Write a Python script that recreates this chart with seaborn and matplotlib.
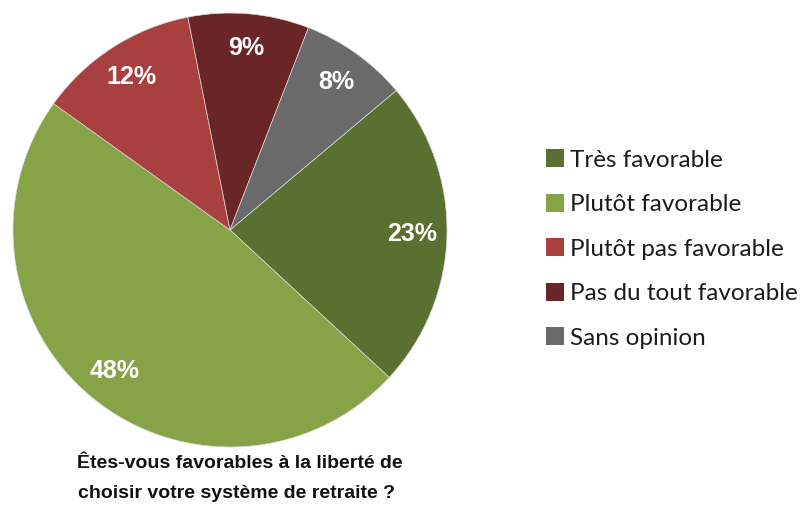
import matplotlib
matplotlib.use("Agg")
import matplotlib.pyplot as plt
import matplotlib.patches as mpatches
import seaborn as sns

categories = ['Très favorable', 'Plutôt favorable', 'Plutôt pas favorable',
              'Pas du tout favorable', 'Sans opinion']
shares = [23, 48, 12, 9, 8]
colors = ['#5a7030', '#86a447', '#a8403f', '#6a2526', '#6a6a6a']
title_lines = ['Êtes-vous favorables à la liberté de',
               'choisir votre système de retraite ?']

sns.set_theme(style='white')
plt.rcParams['font.family'] = ['Liberation Sans', 'DejaVu Sans']

fig = plt.figure(figsize=(8.05, 5.07), dpi=100)
fig.patch.set_facecolor('white')

# pie area, centred at about (230, 230) px with radius 217 px
ax = fig.add_axes([13 / 805, 60 / 507, 434 / 805, 434 / 507])
palette = sns.color_palette(colors)
wedges, texts, autotexts = ax.pie(
    shares, colors=palette, startangle=40, counterclock=False,
    autopct=lambda p: f'{p:.0f}%', pctdistance=0.84,
    wedgeprops=dict(edgecolor='#d8d8d8', linewidth=0.5),
    textprops=dict(color='white', fontsize=18, fontweight='bold',
                   family=['Liberation Sans', 'DejaVu Sans']))
ax.set_xlim(-1, 1)
ax.set_ylim(-1, 1)
ax.set_aspect('equal')
ax.axis('off')

handles = [mpatches.Patch(facecolor=c, edgecolor='none') for c in palette]
leg = fig.legend(handles, categories, loc='center left',
                 bbox_to_anchor=(546 / 805, 1 - 249 / 507),
                 frameon=False, handlelength=0.75, handleheight=0.75,
                 handletextpad=0.25, labelspacing=0.95, borderpad=0,
                 borderaxespad=0,
                 prop=dict(family=['Lato', 'DejaVu Sans'], size=17.5))
for t in leg.get_texts():
    t.set_color('#1c1c1c')

fig.text(240 / 805, 1 - 464 / 507, title_lines[0], ha='center', va='center',
         fontsize=14, fontweight='bold', color='#111111')
fig.text(236 / 805, 1 - 494 / 507, title_lines[1], ha='center', va='center',
         fontsize=14, fontweight='bold', color='#111111')

fig.savefig('out.png', dpi=100, facecolor='white')
